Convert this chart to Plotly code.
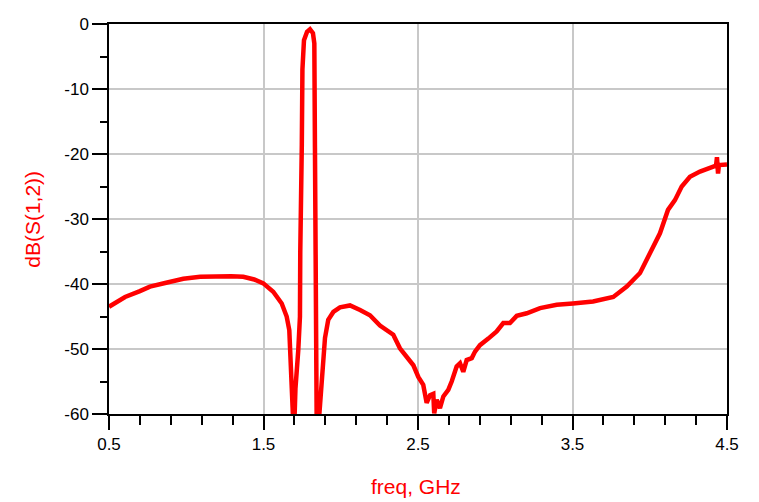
import plotly.graph_objects as go

freq_ghz = [
    0.500, 0.560, 0.604, 0.700, 0.765, 0.870, 0.981, 1.090, 1.197, 1.290, 1.369,
    1.440, 1.499, 1.563, 1.618, 1.650, 1.667, 1.675, 1.685, 1.691, 1.701,
    1.707, 1.725, 1.736, 1.738, 1.741, 1.748, 1.752, 1.762, 1.782, 1.801,
    1.820, 1.829, 1.833, 1.840, 1.844, 1.860, 1.877, 1.898, 1.919, 1.952,
    1.995, 2.060, 2.125, 2.189, 2.254, 2.300, 2.340, 2.383, 2.427, 2.470,
    2.502, 2.534, 2.556, 2.578, 2.599, 2.605, 2.621, 2.642, 2.664, 2.696,
    2.718, 2.750, 2.772, 2.793, 2.815, 2.848, 2.869, 2.901, 2.955, 3.009,
    3.052, 3.095, 3.139, 3.204, 3.290, 3.398, 3.503, 3.633, 3.764, 3.851,
    3.937, 4.002, 4.066, 4.118, 4.163, 4.207, 4.260, 4.325, 4.390, 4.429,
    4.435, 4.442, 4.448, 4.500,
]
s12_db = [
    -43.5, -42.7, -42.0, -41.1, -40.4, -39.8, -39.2, -38.9, -38.8, -38.8, -38.9,
    -39.3, -39.9, -41.2, -43.0, -45.0, -47.1, -51.0, -57.0, -60.5, -60.5,
    -56.0, -50.2, -45.0, -35.0, -20.0, -18.5, -7.0, -2.5, -1.2, -0.8,
    -1.4, -3.0, -19.0, -50.0, -60.5, -60.5, -54.0, -48.3, -45.5, -44.3,
    -43.6, -43.3, -44.0, -44.8, -46.4, -47.2, -47.8, -49.9, -51.2, -52.5,
    -54.3, -55.5, -58.3, -57.1, -56.9, -59.9, -57.8, -59.1, -57.3, -56.3,
    -55.0, -52.7, -52.2, -53.5, -51.7, -51.4, -50.4, -49.4, -48.4, -47.3,
    -46.0, -46.0, -44.9, -44.5, -43.7, -43.2, -43.0, -42.7, -42.0, -40.4,
    -38.3, -35.3, -32.2, -28.6, -27.1, -25.0, -23.5, -22.7, -22.2, -21.8,
    -20.5, -23.0, -21.7, -21.6,
]

x_ticks = [0.5, 1.5, 2.5, 3.5, 4.5]
x_tick_labels = ["0.5", "1.5", "2.5", "3.5", "4.5"]
y_ticks = [0, -10, -20, -30, -40, -50, -60]
y_tick_labels = ["0", "-10", "-20", "-30", "-40", "-50", "-60"]
x_title = "freq, GHz"
y_title = "dB(S(1,2))"

fig = go.Figure()
fig.add_trace(go.Scatter(
    x=freq_ghz, y=s12_db, mode="lines",
    line=dict(color="#ff0000", width=4.5),
    showlegend=False, hoverinfo="x+y",
))

fig.update_layout(
    width=751, height=494,
    margin=dict(l=101, r=32, t=16, b=88),
    paper_bgcolor="white", plot_bgcolor="white",
    font=dict(family="Liberation Sans, Arial, sans-serif", size=17, color="black"),
    annotations=[
        dict(text=x_title, xref="paper", yref="paper", x=0.496, y=-0.185,
             xanchor="center", yanchor="middle", showarrow=False,
             font=dict(color="#ff0000", size=21)),
        dict(text=y_title, xref="paper", yref="paper", x=-0.125, y=0.5,
             xanchor="center", yanchor="middle", showarrow=False, textangle=-90,
             font=dict(color="#ff0000", size=21)),
    ],
)
fig.update_xaxes(
    range=[0.5, 4.5], tickmode="array", tickvals=x_ticks, ticktext=x_tick_labels,
    showgrid=True, gridcolor="#c8c8c8", gridwidth=1.5,
    showline=True, linecolor="black", linewidth=1.5, mirror=True,
    ticks="outside", ticklen=14, tickwidth=1.5, tickcolor="black",
    minor=dict(tick0=0.5, dtick=0.2, ticks="outside", ticklen=9, tickwidth=1.5,
               tickcolor="black", showgrid=False),
    zeroline=False, automargin=False,
    tickfont=dict(size=17),
)
fig.update_yaxes(
    range=[-60, 0], tickmode="array", tickvals=y_ticks, ticktext=y_tick_labels,
    showgrid=True, gridcolor="#c8c8c8", gridwidth=1.5,
    showline=True, linecolor="black", linewidth=1.5, mirror=True,
    ticks="outside", ticklen=15, tickwidth=1.5, tickcolor="black",
    minor=dict(tick0=0, dtick=5, ticks="outside", ticklen=7, tickwidth=1.5,
               tickcolor="black", showgrid=False),
    zeroline=False, automargin=False,
    tickfont=dict(size=17),
)

fig.write_html("out.html")
